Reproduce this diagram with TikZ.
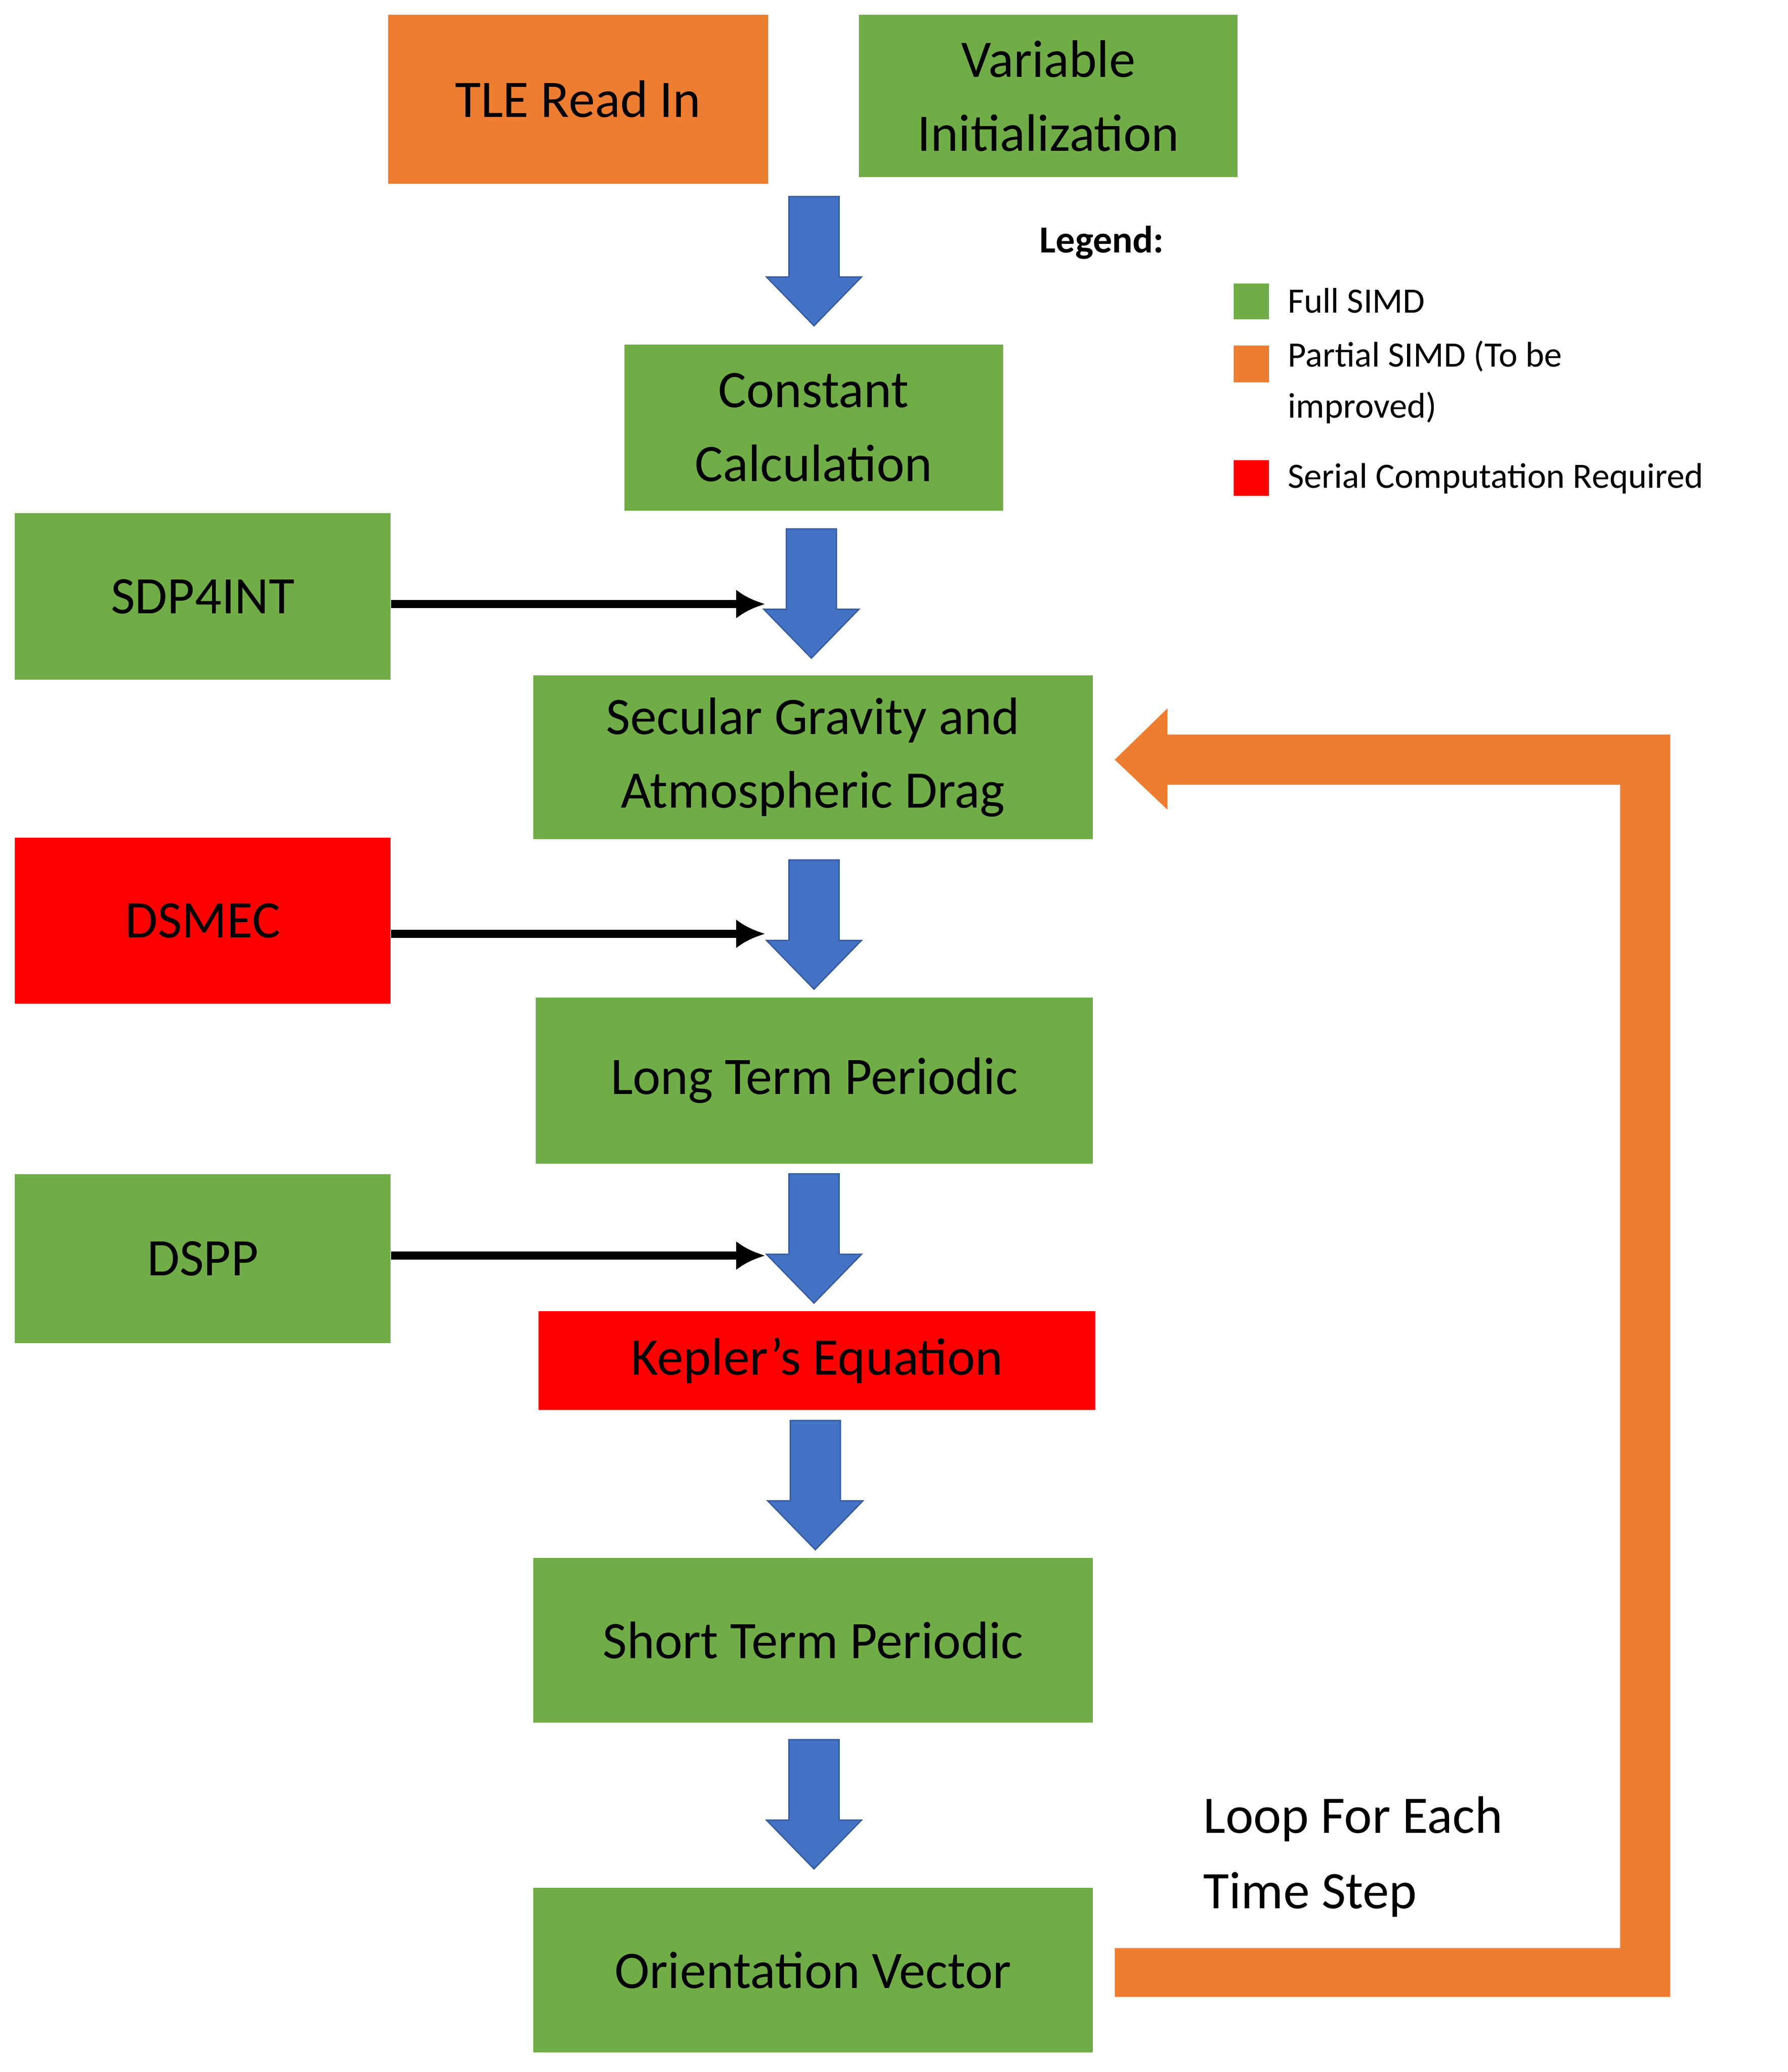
\documentclass[tikz,border=0pt]{standalone}
\usepackage{fontspec}
\setmainfont{Carlito}
\definecolor{og}{HTML}{ED7D31}
\definecolor{gr}{HTML}{70AD47}
\definecolor{rd}{HTML}{FF0000}
\definecolor{bl}{HTML}{4472C4}
\newcommand\blkarrow[3]{\fill[bl,draw=bl!80!black,line width=1pt] (#1-19,#2) -- (#1+19,#2) -- (#1+19,#3-37) -- (#1+36,#3-37) -- (#1,#3) -- (#1-36,#3-37) -- (#1-19,#3-37) -- cycle;}
\begin{document}
\begin{tikzpicture}[x=1pt,y=-1pt,
 box/.style={anchor=north west,inner sep=0pt,align=center,font=\fontsize{40}{56}\selectfont},
 leg/.style={anchor=west,align=left,font=\fontsize{27}{39}\selectfont},
 con/.style={-{Latex[length=22pt,width=22pt]},line width=6pt}]
\usetikzlibrary{arrows.meta}
\useasboundingbox (0,0) rectangle (1355,1571);
\newcommand\bx[6]{\node[box,fill=#6,minimum width=#4-#2,minimum height=#5-#3] (#1) at (#2,#3) {};}
\bx{tle}{294}{11}{582}{139}{og}
\bx{var}{651}{11}{938}{134}{gr}
\bx{con}{473}{261}{760}{387}{gr}
\bx{sdp}{11}{389}{296}{515}{gr}
\bx{sec}{404}{512}{828}{636}{gr}
\bx{dsm}{11}{635}{296}{761}{rd}
\bx{ltp}{406}{756}{828}{882}{gr}
\bx{dsp}{11}{890}{296}{1018}{gr}
\bx{kep}{408}{994}{830}{1069}{rd}
\bx{stp}{404}{1181}{828}{1306}{gr}
\bx{ori}{404}{1431}{828}{1556}{gr}
\node[box,anchor=center] at (tle.center) {TLE Read In};
\node[box,anchor=center] at (var.center) {Variable\\Initialization};
\node[box,anchor=center] at (con.center) {Constant\\Calculation};
\node[box,anchor=center] at (sdp.center) {SDP4INT};
\node[box,anchor=center] at (sec.center) {Secular Gravity and\\Atmospheric Drag};
\node[box,anchor=center] at (dsm.center) {DSMEC};
\node[box,anchor=center] at (ltp.center) {Long Term Periodic};
\node[box,anchor=center] at (dsp.center) {DSPP};
\node[box,anchor=center] at (kep.center) {Kepler's Equation};
\node[box,anchor=center] at (stp.center) {Short Term Periodic};
\node[box,anchor=center] at (ori.center) {Orientation Vector};
\blkarrow{617}{149}{247}
\blkarrow{615}{401}{499}
\blkarrow{617}{652}{750}
\blkarrow{617}{890}{988}
\blkarrow{618}{1077}{1175}
\blkarrow{617}{1319}{1417}
\coordinate (a1) at (580,458);
\coordinate (a2) at (580,708);
\coordinate (a3) at (580,952);
\draw[con] (sdp.east|-a1) -- (a1);
\draw[con] (dsm.east|-a2) -- (a2);
\draw[con] (dsp.east|-a3) -- (a3);
\fill[og] (845,1477) -- (1228,1477) -- (1228,595) -- (885,595) -- (885,614) -- (845,576) -- (885,537) -- (885,557) -- (1266,557) -- (1266,1514) -- (845,1514) -- cycle;
\node[anchor=north west,align=left,font=\fontsize{40}{57}\selectfont,inner sep=0pt] (loop) at (912,1362) {Loop For Each\\Time Step};
\node[anchor=west,inner sep=0pt,font=\bfseries\fontsize{29}{35}\selectfont] (lg) at (788,184) {Legend:};
\fill[gr] (935,215) rectangle (962,242);
\fill[og] (935,262) rectangle (962,290);
\fill[rd] (935,349) rectangle (962,376);
\node[leg,inner sep=0pt] (l1) at (976,228) {Full SIMD};
\node[leg,inner sep=0pt,anchor=north west] (l2) at (976,258) {Partial SIMD (To be\\improved)};
\node[leg,inner sep=0pt] (l3) at (976,363) {Serial Computation Required};
\end{tikzpicture}
\end{document}
